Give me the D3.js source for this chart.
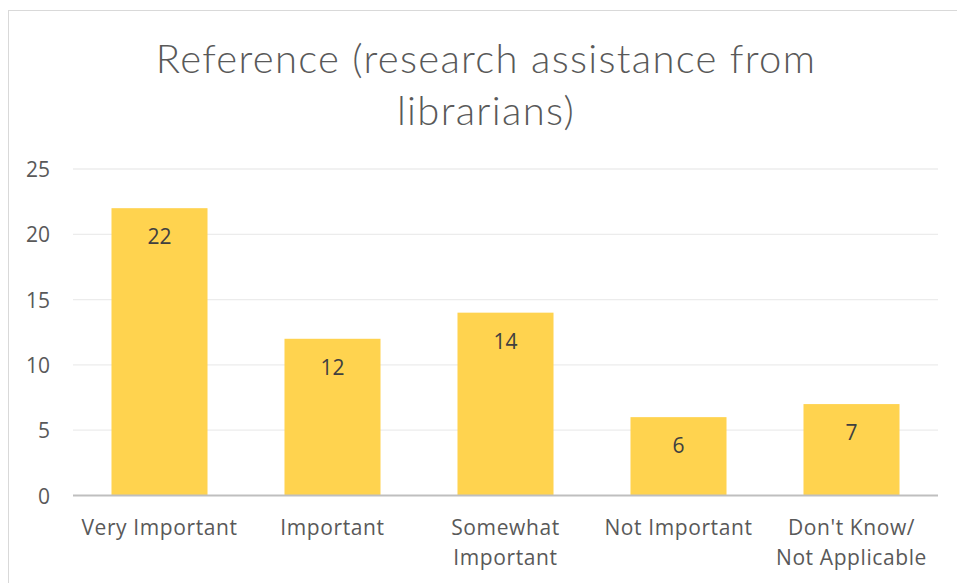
<!DOCTYPE html>
<html><head><meta charset="utf-8">
<script src="https://cdn.jsdelivr.net/npm/d3@7"></script>
<style>body{margin:0;background:#fff;}svg{display:block;}</style>
</head><body>
<script>
const categories = [["Very Important"],["Important"],["Somewhat","Important"],["Not Important"],["Don't Know/","Not Applicable"]];
const values = [22, 12, 14, 6, 7];
const yTicks = [0, 5, 10, 15, 20, 25];
const titleLines = ["Reference (research assistance from", "librarians)"];

(function () {
const W = 957, H = 583;
const svg = d3.select("body").append("svg").attr("width", W).attr("height", H);
const font = "'Open Sans', 'Noto Sans', sans-serif";

// chart border
svg.append("rect").attr("x", 8.5).attr("y", 10.5).attr("width", 960).attr("height", 600)
  .attr("fill", "none").attr("stroke", "#d9d9d9").attr("stroke-width", 1);

const pl = 73, pr = 938, pt = 169, pb = 495.5;
const x = d3.scaleBand().domain(d3.range(values.length)).range([pl, pr]).paddingInner(0.445).paddingOuter(0.2225);
const y = d3.scaleLinear().domain([0, 25]).range([pb, pt]);

// gridlines
svg.append("g").selectAll("line").data(yTicks.filter(d => d > 0)).join("line")
  .attr("x1", pl).attr("x2", pr).attr("y1", d => y(d)).attr("y2", d => y(d))
  .attr("stroke", "#ececec").attr("stroke-width", 1.3);

// y axis labels
const yAxis = d3.axisLeft(y).tickValues(yTicks).tickSize(0).tickPadding(0);
const gy = svg.append("g").attr("transform", `translate(50,0)`).call(yAxis);
gy.select(".domain").remove();
gy.selectAll("text").attr("font-family", font).attr("font-size", 21).attr("fill", "#595959").attr("dy", "0.36em");

// bars
svg.append("g").selectAll("rect").data(values).join("rect")
  .attr("x", (d, i) => x(i)).attr("width", x.bandwidth())
  .attr("y", d => y(d)).attr("height", d => pb - y(d))
  .attr("fill", "#FFD34F");

// axis line
svg.append("line").attr("x1", pl).attr("x2", pr).attr("y1", pb).attr("y2", pb)
  .attr("stroke", "#bfbfbf").attr("stroke-width", 2.2);

// value labels
svg.append("g").selectAll("text").data(values).join("text")
  .attr("x", (d, i) => x(i) + x.bandwidth() / 2).attr("y", d => y(d) + 36)
  .attr("text-anchor", "middle").attr("font-family", font).attr("font-size", 21)
  .attr("fill", "#404040").text(d => d);

// category labels
const xl = svg.append("g");
categories.forEach((lines, i) => {
  const t = xl.append("text").attr("text-anchor", "middle").attr("font-family", font)
    .attr("font-size", 21).attr("fill", "#595959").attr("letter-spacing", 0.6);
  lines.forEach((l, j) => t.append("tspan").attr("x", x(i) + x.bandwidth() / 2).attr("y", 535 + j * 30).text(l));
});

// title
const tt = svg.append("text").attr("text-anchor", "middle").attr("font-family", "Lato, 'Open Sans', sans-serif")
  .attr("font-weight", 300).attr("font-size", 40).attr("fill", "#595959").attr("letter-spacing", 1.3);
titleLines.forEach((l, j) => tt.append("tspan").attr("x", 486).attr("y", 73 + j * 52).text(l));
})();
</script>
</body></html>
